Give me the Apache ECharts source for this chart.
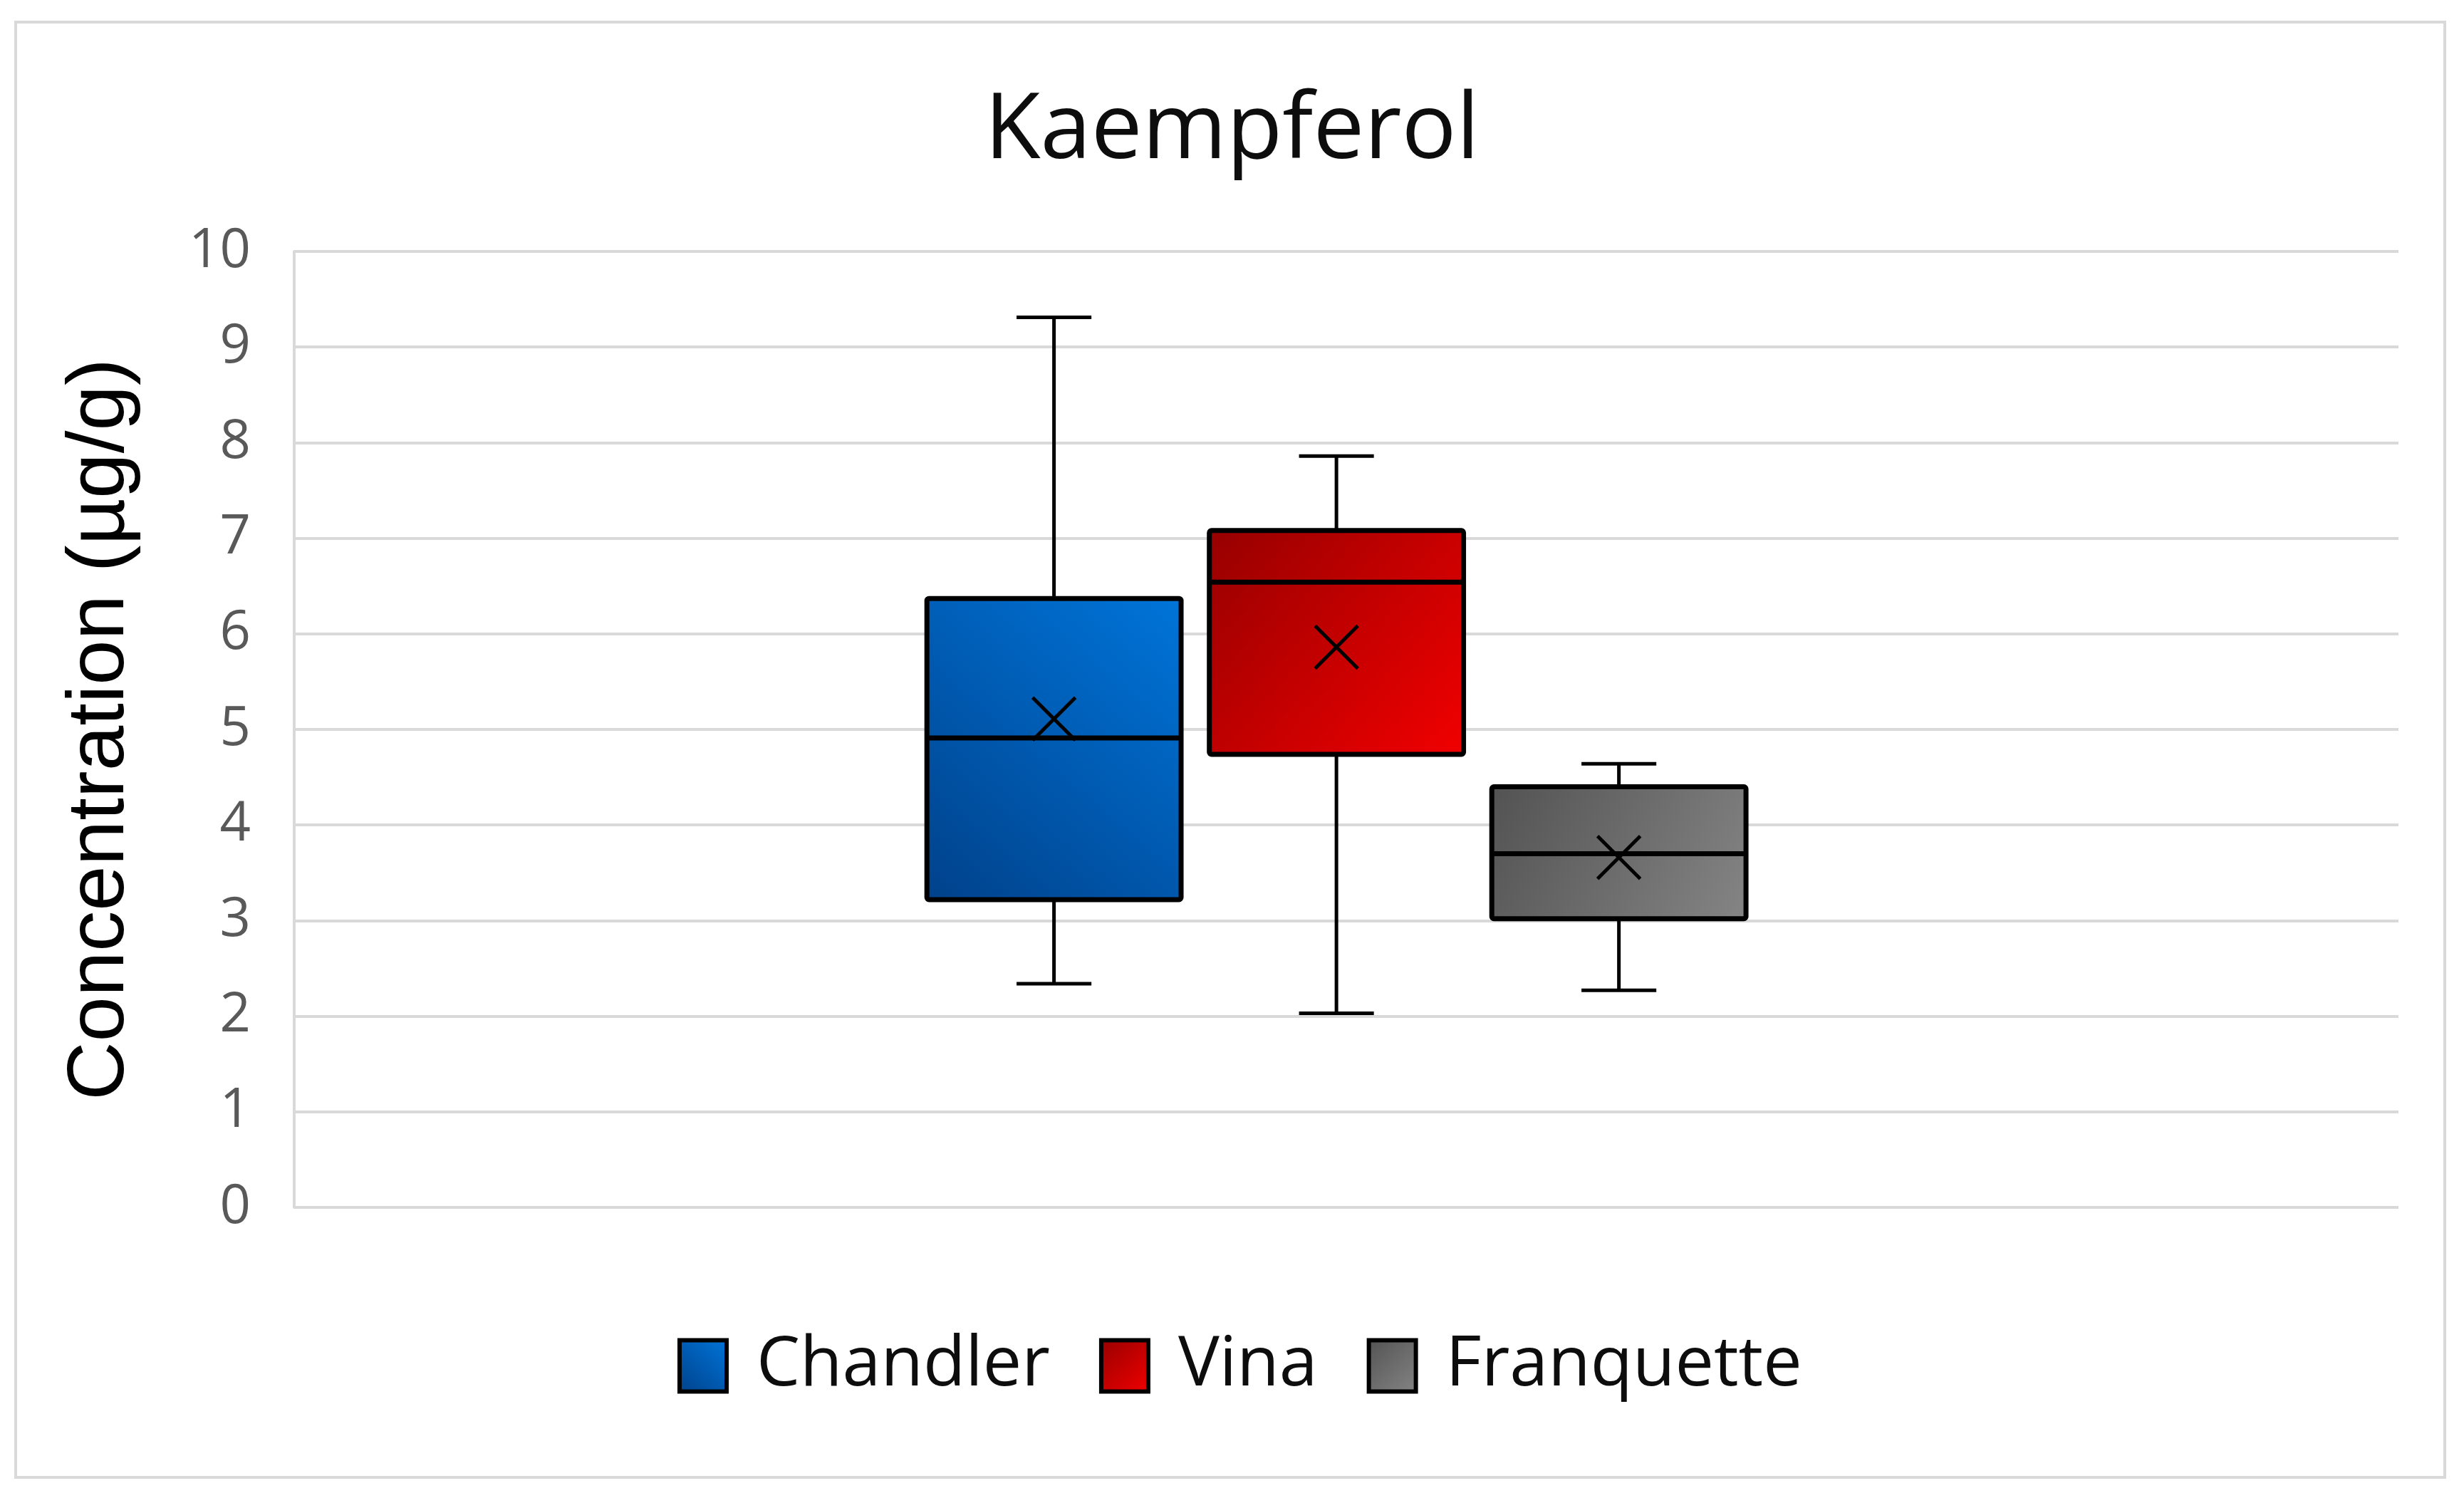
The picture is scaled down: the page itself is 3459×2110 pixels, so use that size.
<!DOCTYPE html>
<html><head><meta charset="utf-8">
<script src="https://cdn.jsdelivr.net/npm/echarts@6/dist/echarts.min.js"></script>
<style>html,body{margin:0;padding:0;background:#fff}#c{width:3459px;height:2110px}</style>
</head><body><div id="c"></div>
<script>
// ---- data ----
const chartTitle = 'Kaempferol';
const yAxisName = 'Concentration (µg/g)';
const categories = ['Chandler', 'Vina', 'Franquette'];
const yMin = 0, yMax = 10, yStep = 1;
const minValues    = [2.34, 2.03, 2.27];
const q1Values     = [3.22, 4.74, 3.02];
const medianValues = [4.91, 6.54, 3.70];
const q3Values     = [6.37, 7.08, 4.40];
const maxValues    = [9.31, 7.86, 4.64];
const meanValues   = [5.11, 5.86, 3.66];

// ---- styles ----
const gradients = [
  new echarts.graphic.LinearGradient(0, 1, 1, 0, [{offset: 0, color: '#00418a'}, {offset: 1, color: '#0075da'}]),
  new echarts.graphic.LinearGradient(0, 0, 1, 1, [{offset: 0, color: '#960000'}, {offset: 1, color: '#f20000'}]),
  new echarts.graphic.LinearGradient(0, 0, 1, 1, [{offset: 0, color: '#525252'}, {offset: 1, color: '#858585'}])
];
const BOX_W = 0.9;    // in category units
const CAP_W = 0.265;
const CROSS_R = 30;   // px
const LINE = '#000';

function renderBox(params, api, fill) {
  const xi = api.value(0);
  const pMin = api.coord([xi, api.value(1)]);
  const pQ1 = api.coord([xi, api.value(2)]);
  const pMed = api.coord([xi, api.value(3)]);
  const pQ3 = api.coord([xi, api.value(4)]);
  const pMax = api.coord([xi, api.value(5)]);
  const pMean = api.coord([xi, api.value(6)]);
  const bw = api.size([BOX_W, 0])[0];
  const cw = api.size([CAP_W, 0])[0];
  const cx = pMed[0];
  const ws = {stroke: LINE, lineWidth: 5, lineCap: 'butt'};
  return {
    type: 'group',
    children: [
      {type: 'line', shape: {x1: cx, y1: pMax[1], x2: cx, y2: pQ3[1]}, style: ws},
      {type: 'line', shape: {x1: cx - cw / 2, y1: pMax[1], x2: cx + cw / 2, y2: pMax[1]}, style: ws},
      {type: 'line', shape: {x1: cx, y1: pQ1[1], x2: cx, y2: pMin[1]}, style: ws},
      {type: 'line', shape: {x1: cx - cw / 2, y1: pMin[1], x2: cx + cw / 2, y2: pMin[1]}, style: ws},
      {type: 'rect', shape: {x: cx - bw / 2, y: pQ3[1], width: bw, height: pQ1[1] - pQ3[1], r: 3},
        style: {fill: fill, stroke: LINE, lineWidth: 7, lineJoin: 'round'}},
      {type: 'line', shape: {x1: cx - bw / 2, y1: pMed[1], x2: cx + bw / 2, y2: pMed[1]}, style: {stroke: LINE, lineWidth: 7}},
      {type: 'line', shape: {x1: pMean[0] - CROSS_R, y1: pMean[1] - CROSS_R, x2: pMean[0] + CROSS_R, y2: pMean[1] + CROSS_R}, style: {stroke: LINE, lineWidth: 5}},
      {type: 'line', shape: {x1: pMean[0] - CROSS_R, y1: pMean[1] + CROSS_R, x2: pMean[0] + CROSS_R, y2: pMean[1] - CROSS_R}, style: {stroke: LINE, lineWidth: 5}}
    ]
  };
}

const chart = echarts.init(document.getElementById('c'), null, {renderer: 'canvas'});
chart.setOption({
  animation: false,
  backgroundColor: '#ffffff',
  title: {
    text: chartTitle, left: 'center', top: 117,
    textStyle: {fontFamily: 'Open Sans', fontSize: 128, fontWeight: 'normal', color: '#0d0d0d'}
  },
  legend: {
    data: categories, left: 946, top: 1864,
    icon: 'rect', itemWidth: 66, itemHeight: 72, itemGap: 69,
    itemStyle: {borderColor: '#000', borderWidth: 6},
    textStyle: {fontFamily: 'Open Sans', fontSize: 97, color: '#0d0d0d', padding: [0, 0, 0, 37]}
  },
  graphic: [{
    type: 'rect', silent: true, z: -10,
    shape: {x: 22, y: 31, width: 3410, height: 2043},
    style: {fill: 'none', stroke: '#d9d9d9', lineWidth: 4}
  }],
  grid: {left: 413, right: 92, top: 353, bottom: 415, containLabel: false},
  xAxis: {
    type: 'value', min: -2.69, max: 4.76, show: false,
    splitLine: {show: false}
  },
  yAxis: {
    type: 'value', min: yMin, max: yMax, interval: yStep,
    name: yAxisName, nameLocation: 'middle', nameRotate: 90, nameGap: 214,
    nameTextStyle: {fontFamily: 'Liberation Sans', fontSize: 114, color: '#000'},
    axisLine: {show: true, onZero: false, lineStyle: {color: '#d9d9d9', width: 4}},
    axisTick: {show: false},
    axisLabel: {fontFamily: 'Open Sans', fontSize: 76, color: '#595959', margin: 61},
    splitLine: {show: true, lineStyle: {color: '#d9d9d9', width: 4}}
  },
  series: categories.map((name, i) => ({
    name: name,
    type: 'custom',
    itemStyle: {color: gradients[i], borderColor: '#000', borderWidth: 6},
    encode: {x: 0, y: [1, 2, 3, 4, 5, 6]},
    data: [[i, minValues[i], q1Values[i], medianValues[i], q3Values[i], maxValues[i], meanValues[i]]],
    renderItem: (params, api) => renderBox(params, api, gradients[i])
  }))
});
</script></body></html>
